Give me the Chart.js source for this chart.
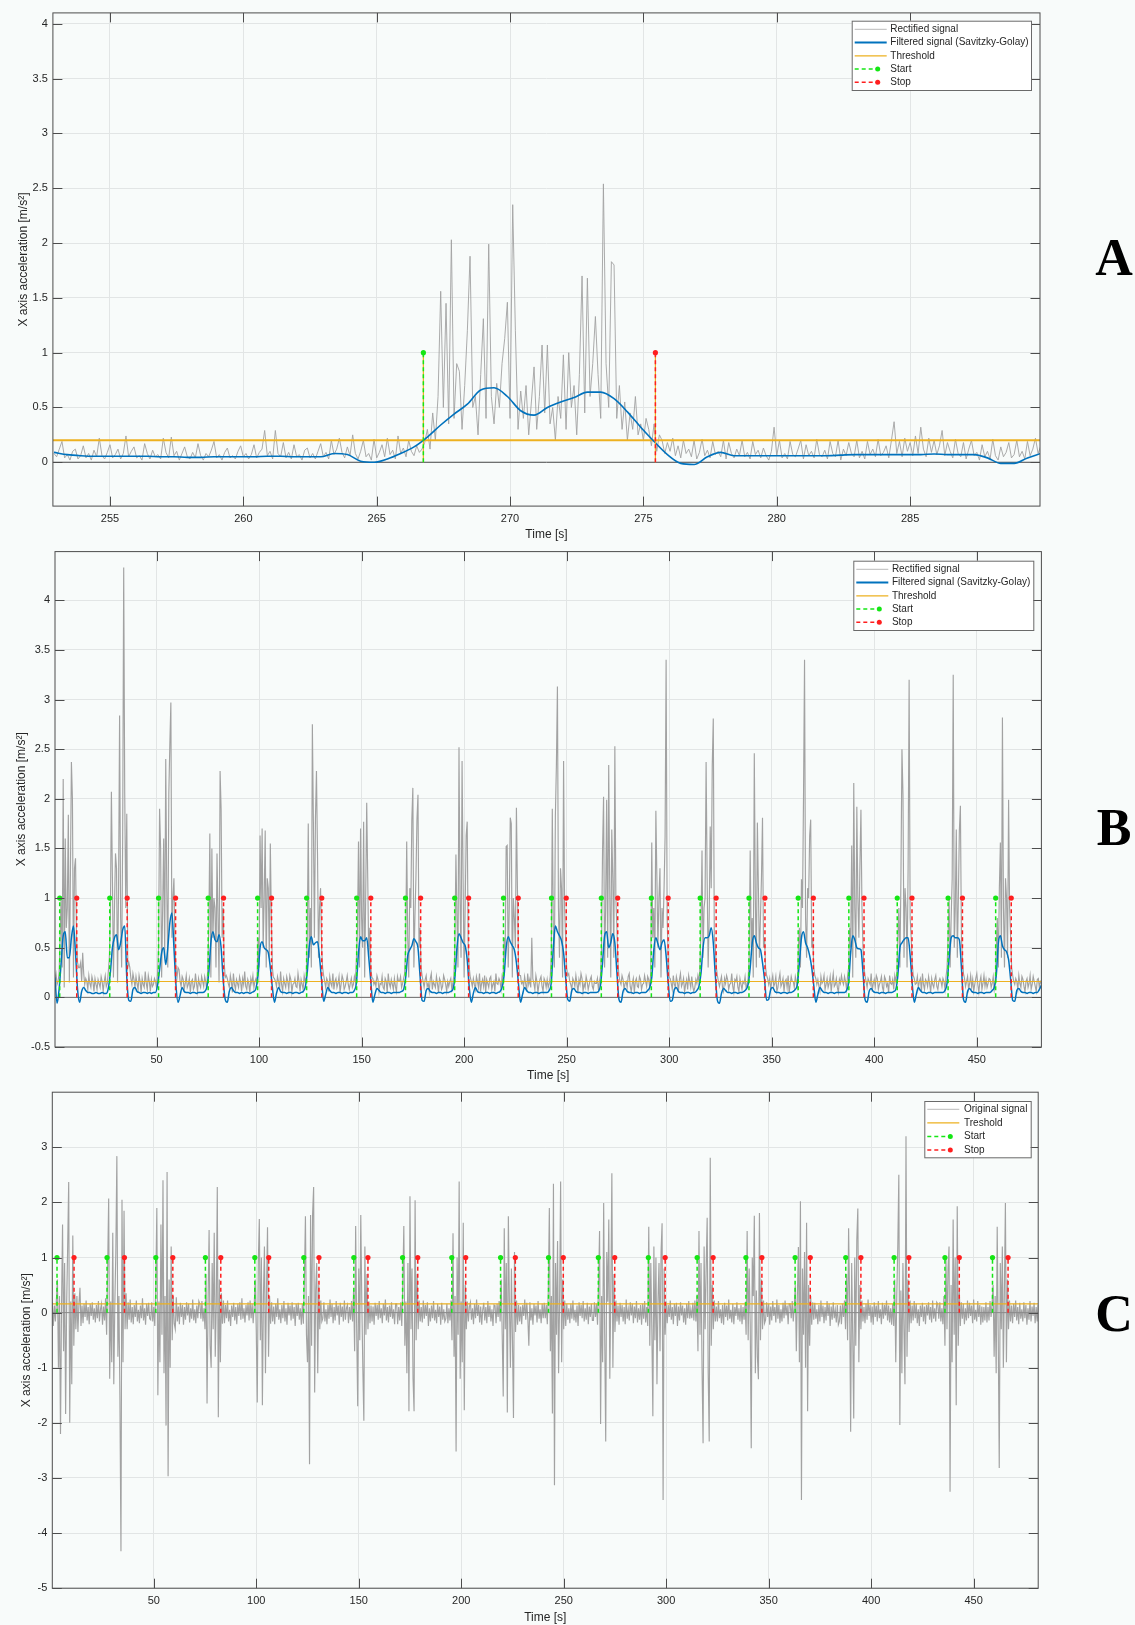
<!DOCTYPE html>
<html>
<head>
<meta charset="utf-8">
<script src="https://cdn.jsdelivr.net/npm/chart.js@4.4.0/dist/chart.umd.min.js"></script>
<style>
  html, body { margin: 0; padding: 0; background: #f8fbfa; }
  body { width: 1135px; height: 1625px; position: relative; overflow: hidden; }
  canvas { position: absolute; left: 0; }
  .tag { position: absolute; width: 60px; text-align: center; line-height: 60px;
         font: bold 52px 'Liberation Serif', 'Times New Roman', serif; color: #000; }
</style>
</head>
<body>
<canvas id="chart-a" width="1135" height="545" style="top:0"></canvas>
<canvas id="chart-b" width="1135" height="545" style="top:540px"></canvas>
<canvas id="chart-c" width="1135" height="545" style="top:1080px"></canvas>
<div class="tag" style="left:1084px;top:228px">A</div>
<div class="tag" style="left:1084px;top:798px">B</div>
<div class="tag" style="left:1084px;top:1284px">C</div>
<script>
'use strict';
// ******* DATA : panel A (zoom on one repetition) ********
const aTicksX = [255, 260, 265, 270, 275, 280, 285];
const aTicksY = [0, 0.5, 1, 1.5, 2, 2.5, 3, 3.5, 4];
const aRectStart = 252.9;
const aRectStep = 0.1;
const aRect = [
  .08,.05,.12,.19,.04,.07,.02,.1,.12,.03,
  .06,.15,.04,.08,.02,.11,.05,.22,.06,.03,
  .09,.16,.04,.07,.12,.03,.08,.24,.05,.1,
  .14,.04,.06,.02,.17,.08,.03,.11,.05,.07,
  .03,.22,.09,.04,.23,.06,.1,.02,.08,.14,
  .05,.03,.09,.04,.17,.06,.02,.08,.05,.11,
  .19,.04,.07,.02,.09,.13,.04,.06,.03,.1,
  .15,.05,.08,.03,.07,.16,.04,.09,.12,.29,
  .06,.1,.03,.29,.08,.05,.18,.04,.09,.03,
  .16,.05,.07,.02,.11,.13,.04,.08,.03,.1,
  .17,.05,.09,.03,.2,.07,.12,.22,.09,.04,
  .14,.06,.25,.08,.03,.1,.2,.05,.08,.02,
  .21,.04,.09,.16,.05,.22,.07,.11,.03,.24,
  .08,.13,.05,.2,.1,.06,.15,.09,.12,.18,
  .3,.12,.45,.2,.6,1.56,.5,1.45,.35,2.03,
  .4,.9,.83,.3,.7,1.2,1.88,.5,.6,.25,
  .8,1.31,.4,1.99,.6,.35,.72,.5,.9,1.13,
  1.46,.4,2.35,1.2,.3,.65,.4,.7,.25,.55,
  .87,.3,.6,1.07,.45,1.07,.35,.5,.2,.6,
  .4,.98,.3,1,.5,.7,.25,.8,1.7,.45,
  1.68,.6,.9,1.33,.8,.4,2.54,.9,.5,1.83,
  1.8,.4,.7,.3,.55,.2,.45,.3,.6,.25,
  .35,.2,.4,.3,.15,.35,.1,.25,.2,.08,
  .18,.1,.22,.06,.15,.04,.2,.08,.12,.05,
  .2,.03,.09,.21,.06,.11,.04,.19,.07,.1,
  .05,.2,.03,.18,.08,.04,.12,.06,.2,.05,
  .09,.03,.19,.07,.11,.04,.13,.06,.02,.1,
  .32,.06,.2,.04,.08,.03,.19,.07,.05,.12,
  .2,.03,.16,.06,.1,.04,.21,.07,.05,.11,
  .03,.19,.08,.05,.2,.02,.12,.06,.18,.08,
  .05,.2,.04,.1,.03,.19,.07,.12,.05,.21,
  .06,.09,.15,.04,.2,.37,.08,.19,.05,.22,
  .1,.18,.06,.24,.08,.32,.12,.05,.22,.09,
  .2,.07,.15,.29,.06,.18,.1,.04,.21,.08,
  .05,.18,.03,.12,.2,.06,.09,.02,.16,.05,
  .1,.03,.21,.06,.02,.14,.05,.09,.18,.04,
  .07,.2,.05,.1,.03,.19,.06,.12,.22,.08,.15
];
const aFiltStart = 252.9;
const aFiltStep = 0.5;
const aFilt = [
  .09,.07,.06,.055,.055,.055,.055,.055,.05,.05,
  .045,.045,.05,.05,.05,.05,.055,.055,.05,.05,
  .05,.08,.07,.01,0,.03,.08,.14,.23,.34,
  .44,.53,.66,.68,.6,.47,.43,.5,.55,.59,
  .64,.64,.58,.46,.32,.19,.07,-.01,-.02,.05,
  .09,.06,.06,.06,.06,.06,.06,.06,.06,.065,
  .07,.07,.07,.07,.07,.07,.075,.07,.07,.07,
  .04,-.01,-.01,.04,.08
];
const aThreshold = 0.2;
const aStart = [266.75];
const aStop = [275.45];

// ******* DATA : panels B and C (whole recording) ********
const bcTicksX = [50, 100, 150, 200, 250, 300, 350, 400, 450];
const bTicksY = [-0.5, 0, 0.5, 1, 1.5, 2, 2.5, 3, 3.5, 4];
const cTicksY = [-5, -4, -3, -2, -1, 0, 1, 2, 3];
// original X acceleration, one value every 0.5 s from 0.5 s (one line = 12 s)
const sigStart = 0.5;
const sigStep = 0.5;
const cSignal = [
  .19,-.24,.13,-.16,.24,.6,-1,.3,-2.2,.1,1.6,-.7,.9,-1.84,.15,1.2,2.37,-2,.2,-1.3,1.4,-.6,.35,-.3,
  .3,-.35,.16,.45,-.24,.13,-.19,.16,-.08,.22,-.14,.1,-.21,.16,-.06,.19,-.13,.08,-.18,.14,-.1,.21,-.16,.06,
  .16,-.22,.11,-.14,.26,-.4,.8,2.07,-1.2,.2,-.9,1.45,-1.3,.15,1.1,2.84,-.8,.3,-1.6,-4.33,2.05,-.9,1.85,-.3,
  .35,-.3,.19,-.13,.24,-.18,.1,-.21,.14,-.08,.22,-.16,.05,-.19,.13,-.1,.26,-.14,.08,-.22,.16,-.06,.18,-.11,
  -.13,.19,-.16,.1,-.24,.5,1.9,-1.5,.2,-.9,1.6,-.4,2.4,-1.1,.3,-2.05,2.55,-2.97,.6,-1,1.2,-.5,.3,-.2,
  -.3,.28,-.16,.11,-.21,.18,-.08,.14,-.22,.1,-.13,.19,-.05,.16,-.18,.08,-.11,.24,-.14,.06,-.19,.13,-.1,.21,
  .16,-.11,.21,-.16,.08,-.3,.7,-1.65,.2,1.5,-.6,-1,.9,-.3,1.45,-.8,.15,2.28,-1.9,.6,-.9,.35,-.2,.22,
  -.19,.14,-.1,.22,-.16,.05,-.24,.13,-.08,.18,-.14,.1,-.21,.16,-.06,.19,-.13,.26,-.11,.08,-.18,.14,-.05,.19,
  -.14,.22,-.1,.16,-.19,.13,.6,-.3,-1.63,.9,1.7,-.5,1,-1.68,.3,1.2,-1.1,.4,1.55,-.8,.3,-.2,.19,-.16,
  .11,-.21,.16,-.08,.26,-.13,.06,-.19,.14,-.1,.21,-.16,.08,-.22,.18,-.05,.13,-.14,.19,-.11,.1,-.24,.16,-.06,
  .18,-.13,.08,-.22,.16,-.2,.6,1.75,-.4,-.9,.3,-2.75,1.77,-.6,1.8,2.28,-1.45,.4,.9,-1.1,.5,-.3,.22,-.16,
  -.1,.19,-.16,.06,-.21,.14,-.11,.24,-.08,.16,-.19,.1,-.14,.21,-.05,.13,-.22,.18,-.08,.11,-.16,.22,-.13,.08,
  .14,-.19,.1,-.13,.21,-.16,.4,-.7,1.57,-.3,-1.7,.8,-.5,1.77,.2,-1,-1.96,1.2,-.4,.7,-.3,.2,-.19,.13,
  -.16,.11,-.22,.18,-.06,.14,-.13,.21,-.1,.08,-.19,.16,-.05,.24,-.14,.1,-.18,.13,-.08,.19,-.11,.06,-.21,.16,
  .16,-.21,.1,-.14,.19,-.24,.5,1.57,-.6,.2,-1.1,.9,-1.79,2.11,-.3,.8,-1.2,-1.79,2.04,-.5,.7,-.3,.22,-.16,
  .1,-.18,.22,-.11,.14,-.06,.19,-.24,.08,-.16,.13,-.1,.21,-.14,.05,-.19,.16,-.08,.11,-.22,.18,-.13,.06,-.16,
  -.11,.16,-.19,.08,-.14,.22,-.5,1.44,-.8,.3,-2.52,1,-.4,2.38,-1.2,.2,-.9,1.63,-1.77,.5,-.3,.2,-.16,.11,
  .19,-.13,.08,-.21,.16,-.1,.24,-.06,.14,-.18,.11,-.22,.05,.18,-.14,.1,-.19,.21,-.08,.13,-.16,.06,-.24,.14,
  .13,-.19,.16,-.08,.21,-.16,.6,-.4,-1.52,1.53,-.3,.9,-1.81,1.75,.2,-1,.8,-.5,-1.91,1.1,-.35,.22,-.22,.14,
  -.16,.11,-.21,.14,-.06,.24,-.13,.18,-.1,-.6,.19,-.14,.08,-.22,.16,-.05,.13,-.18,.21,-.11,.06,-.19,.16,-.1,
  .18,-.1,.14,-.21,.4,1.9,-.7,.3,-1.83,2.34,-3.13,.9,-.4,1.3,-1.1,.2,2.38,-.9,.6,-.3,.22,-.24,.16,-.13,
  .08,-.19,.16,-.11,.22,-.14,.05,-.18,.13,-.24,.19,-.06,.14,-.1,.21,-.16,.08,-.13,.18,-.21,.11,-.08,.16,-.14,
  -.14,.19,-.08,.16,-.22,.5,1.48,-2.02,.3,-.9,1.99,-.4,-2.34,1.1,.2,1.69,-1.2,.4,2.53,-1,.7,-.35,.22,-.16,
  .13,-.22,.18,-.08,.14,-.16,.1,-.21,.24,-.11,.06,-.14,.19,-.05,.16,-.19,.11,-.1,.21,-.18,.08,-.13,.14,-.22,
  .16,-.11,.21,-.18,.1,-.24,1.56,-.6,.9,-.3,-1.88,1.2,-.5,1,-1.3,.2,.9,-.7,1.1,1.62,-3.4,.8,-.4,.2,
  -.19,.14,-.08,.22,-.13,.1,-.21,.16,-.06,.18,-.24,.11,-.14,.19,-.05,.13,-.18,.08,-.22,.16,-.1,.21,-.11,.06,
  -.1,.18,-.14,.22,-.16,.3,-.7,1.48,-.4,.9,-1,-2.37,1.2,-.3,.8,1.72,-1.1,-2.34,2.81,-.6,.5,-.3,.22,-.16,
  .11,-.16,.21,-.1,.06,-.19,.14,-.22,.18,-.08,.13,-.14,.24,-.11,.05,-.18,.16,-.21,.1,-.06,.19,-.13,.08,-.16,
  .14,-.21,.1,-.13,.19,-.4,1.48,-.5,.8,-.2,-2.46,1,.3,1.76,-1.1,.4,-.8,-1.21,1.81,-.5,.6,-.3,.22,-.19,
  -.13,.19,-.08,.16,-.22,.11,-.14,.21,-.06,.1,-.18,.24,-.11,.14,-.19,.06,-.16,.18,-.1,.22,-.05,.13,-.21,.16,
  .16,-.1,.21,-.16,.11,.5,-.7,.3,1.19,-.9,2.02,-3.4,.8,-.4,1.1,-1,1.63,-1.79,.5,-.6,.3,-.22,.19,-.13,
  .18,-.11,.06,-.21,.14,-.16,.22,-.08,.13,-.19,.1,-.14,.21,-.06,.16,-.24,.11,-.13,.19,-.1,.05,-.18,.14,-.22,
  -.16,.13,-.21,.16,-.08,.22,-.3,.7,-.5,1.53,.2,-2.16,.9,-.4,-1.92,1,-.6,1.32,1.89,-.9,.5,-.3,.22,-.16,
  .1,-.19,.16,-.13,.24,-.06,.14,-.18,.11,-.22,.19,-.08,.13,-.16,.21,-.1,.06,-.21,.18,-.11,.14,-.05,.22,-.14,
  .13,-.18,.08,-.22,.16,-.24,.6,-.9,.3,1.2,2.5,-2.04,.4,-1.1,.9,-.3,-1.3,3.2,-.8,.6,-.35,.22,-.19,.13,
  -.14,.21,-.1,.16,-.19,.06,-.24,.13,-.08,.18,-.16,.11,-.21,.14,-.05,.19,-.13,.1,-.18,.22,-.11,.08,-.16,.19,
  .16,-.11,.19,-.16,.08,-.21,.3,-.6,1,-.3,.8,1.2,-3.25,.5,-.9,1.69,-.4,1,-1.68,1.93,-.6,.4,-.24,.19,
  -.11,.16,-.21,.08,-.14,.22,-.1,.18,-.06,.13,-.19,.24,-.13,.05,-.16,.21,-.08,.14,-.22,.11,-.18,.1,-.14,.19,
  -.18,.1,-.14,.21,-.08,.16,.5,-.8,.3,-1.1,1.56,-.4,-2.82,.9,-.3,1.2,-1,.4,1.99,-.9,.6,-.3,.22,-.16,
  .13,-.19,.16,-.08,.22,-.14,.1,-.21,.18,-.11,.06,-.16,.19,-.1,.14,-.22,.08,-.13,.21,-.16,.11,-.06,.18,-.19,
  .1,-.16,.14
];
// Savitzky-Golay filtered rectified signal, one value per second from 0.5 s
const bFiltStart = 0.5;
const bFiltStep = 1;
const bFilt = [
  .2,-.06,.08,.35,.62,.66,.4,.4,.6,.72,.45,.08,
  -.05,.06,.1,.07,.05,.05,.04,.04,.05,.04,.04,.05,
  .04,.04,.09,.25,.5,.6,.63,.48,.55,.68,.72,.2,
  -.03,-.04,.08,.1,.06,.05,.04,.05,.05,.04,.05,.04,
  .05,.05,.12,.28,.45,.5,.33,.5,.75,.85,.5,.12,
  -.05,.02,.1,.06,.05,.05,.04,.05,.05,.04,.05,.05,
  .05,.06,.1,.25,.55,.66,.58,.56,.63,.5,.18,-.02,
  -.05,.06,.1,.07,.05,.05,.04,.05,.04,.05,.05,.04,
  .05,.06,.09,.22,.5,.56,.5,.48,.45,.3,.1,-.05,
  .04,.1,.06,.05,.05,.04,.05,.05,.04,.05,.05,.04,
  .05,.06,.1,.25,.52,.61,.53,.55,.56,.4,.17,-.04,
  .03,.1,.07,.05,.05,.04,.05,.05,.04,.05,.05,.04,
  .05,.05,.07,.15,.45,.61,.57,.57,.6,.4,.16,-.05,
  .03,.09,.07,.05,.05,.04,.05,.05,.04,.05,.05,.05,
  .05,.06,.08,.2,.42,.48,.52,.59,.56,.5,.22,-.03,
  -.04,.07,.09,.06,.05,.05,.04,.05,.05,.04,.05,.05,
  .05,.06,.08,.2,.5,.64,.6,.55,.52,.38,.1,-.05,
  .04,.1,.06,.05,.05,.04,.05,.05,.04,.05,.05,.04,
  .05,.06,.1,.22,.5,.61,.56,.52,.48,.35,.14,-.05,
  .03,.1,.07,.05,.05,.04,.05,.05,.04,.05,.05,.05,
  .05,.07,.15,.5,.72,.66,.62,.57,.45,.2,-.02,-.04,
  .07,.09,.06,.05,.05,.04,.05,.05,.04,.05,.05,.05,
  .05,.06,.12,.35,.62,.66,.5,.55,.64,.55,.25,-.02,
  -.05,.06,.09,.06,.05,.05,.04,.05,.05,.04,.05,.05,
  .05,.07,.1,.2,.48,.6,.54,.48,.55,.58,.42,.15,
  -.04,-.03,.08,.1,.06,.05,.05,.04,.05,.05,.04,.05,
  .05,.07,.11,.24,.5,.6,.6,.62,.7,.55,.22,-.03,
  -.06,.04,.09,.07,.05,.05,.04,.05,.05,.04,.05,.05,
  .06,.08,.13,.3,.55,.62,.55,.5,.48,.35,.18,-.03,
  -.02,.08,.1,.06,.05,.05,.04,.05,.05,.04,.05,.05,
  .06,.08,.13,.35,.6,.66,.55,.5,.42,.3,.12,-.05,
  .03,.1,.07,.05,.05,.04,.05,.05,.04,.05,.05,.05,
  .05,.05,.07,.15,.45,.62,.58,.5,.49,.48,.25,-.02,
  -.05,.06,.09,.06,.05,.05,.04,.05,.05,.04,.05,.05,
  .05,.06,.08,.22,.5,.55,.58,.6,.6,.42,.14,-.05,
  .03,.1,.07,.05,.05,.04,.05,.05,.04,.05,.05,.05,
  .05,.05,.07,.14,.4,.6,.62,.6,.6,.58,.3,-.02,
  -.05,.06,.09,.06,.05,.05,.04,.05,.05,.04,.05,.05,
  .05,.07,.1,.22,.55,.62,.52,.48,.46,.38,.18,-.03,
  -.04,.07,.09,.06,.05,.05,.04,.05,.05,.04,.05,.05,
  .08,.12
];
const bcThreshold = 0.16;
const bcStart = [2.8, 27.2, 51.0, 75.2, 99.3, 123.2, 147.6, 171.4, 195.4, 219.2,
                 242.6, 266.9, 291.3, 315.1, 338.9, 362.9, 387.6, 411.2, 436.0, 459.2];
const bcStop = [11.1, 35.7, 59.3, 82.7, 106.1, 130.6, 154.5, 178.8, 202.2, 226.4,
                249.8, 274.9, 299.5, 322.9, 346.7, 370.3, 395.0, 418.4, 443.0, 466.8];
const stemValue = 1;

const abLegend = ['Rectified signal', 'Filtered signal (Savitzky-Golay)', 'Threshold', 'Start', 'Stop'];
const cLegend = ['Original signal', 'Treshold', 'Start', 'Stop'];

// ******* STYLE ********
const GREY = '#a2a2a2';
const BLUE = '#0072bd';
const ORANGE = '#edb120';
const GREEN = '#14e614';
const RED = '#ff1e1e';
const GRID = '#e2e5e5';
const FRAME = '#4d4d4d';
const FONT = "'Liberation Sans', Arial, Helvetica, sans-serif";

Chart.defaults.font.family = FONT;
Chart.defaults.font.size = 11;
Chart.defaults.color = '#262626';

// ******* HELPERS ********
function series(start, step, values, fn) {
  return values.map((v, i) => ({ x: start + i * step, y: fn ? fn(v) : v }));
}

function stems(times) {
  let d = [];
  times.forEach(t => { d.push({ x: t, y: 0 }, { x: t, y: stemValue }, { x: t, y: null }); });
  return d;
}

function hline(v, min, max) {
  return [{ x: min, y: v }, { x: max, y: v }];
}

function lineDs(data, color, width, order, extra) {
  return Object.assign({
    data: data, borderColor: color, borderWidth: width, pointRadius: 0,
    fill: false, tension: 0, spanGaps: false, order: order
  }, extra || {});
}

function stemDs(times, color, order) {
  return lineDs(stems(times), color, 1.5, order, {
    borderDash: [4, 3],
    pointRadius: c => (c.raw && c.raw.y === stemValue ? 2.6 : 0),
    pointBackgroundColor: color, pointBorderWidth: 0
  });
}

// box + inward tick marks on all four sides (matlab style)
const framePlugin = {
  id: 'frame',
  afterDatasetsDraw(chart) {
    const ctx = chart.ctx;
    const a = chart.chartArea;
    const x = chart.scales.x, y = chart.scales.y;
    const L = 9.5;
    ctx.save();
    ctx.strokeStyle = FRAME;
    ctx.lineWidth = 1;
    ctx.beginPath();
    x.ticks.forEach(t => {
      const px = Math.round(x.getPixelForValue(t.value)) + 0.5;
      ctx.moveTo(px, a.bottom); ctx.lineTo(px, a.bottom - L);
      ctx.moveTo(px, a.top); ctx.lineTo(px, a.top + L);
    });
    y.ticks.forEach(t => {
      const py = Math.round(y.getPixelForValue(t.value)) + 0.5;
      ctx.moveTo(a.left, py); ctx.lineTo(a.left + L, py);
      ctx.moveTo(a.right, py); ctx.lineTo(a.right - L, py);
    });
    ctx.stroke();
    ctx.strokeRect(a.left, a.top, a.right - a.left, a.bottom - a.top);
    ctx.restore();
  }
};

function makeLegend(labels, styles, box) {
  return {
    id: 'boxLegend',
    afterDraw(chart) {
      const ctx = chart.ctx;
      ctx.save();
      ctx.fillStyle = '#ffffff';
      ctx.fillRect(box.x, box.y, box.w, box.h);
      ctx.strokeStyle = '#6a6a6a';
      ctx.lineWidth = 1;
      ctx.strokeRect(box.x + 0.5, box.y + 0.5, box.w, box.h);
      ctx.font = '10px ' + FONT;
      ctx.textBaseline = 'middle';
      labels.forEach((label, i) => {
        const s = styles[i];
        const cy = box.y + box.first + i * box.row;
        ctx.beginPath();
        ctx.strokeStyle = s.color;
        ctx.lineWidth = s.width;
        ctx.setLineDash(s.dot ? [4, 3] : []);
        ctx.moveTo(box.x + 3, cy);
        ctx.lineTo(box.x + (s.dot ? 26 : 35), cy);
        ctx.stroke();
        ctx.setLineDash([]);
        if (s.dot) {
          ctx.beginPath();
          ctx.fillStyle = s.color;
          ctx.arc(box.x + 26, cy, 2.5, 0, Math.PI * 2);
          ctx.fill();
        }
        ctx.fillStyle = '#262626';
        ctx.fillText(label, box.x + box.tx, cy);
      });
      ctx.restore();
    }
  };
}

function makeChart(id, o) {
  return new Chart(document.getElementById(id), {
    type: 'line',
    data: { datasets: o.datasets },
    options: {
      responsive: false,
      animation: false,
      events: [],
      devicePixelRatio: 1,
      layout: { padding: o.pad },
      plugins: { legend: { display: false }, tooltip: { enabled: false } },
      scales: {
        x: {
          type: 'linear', min: o.xMin, max: o.xMax,
          afterBuildTicks: s => { s.ticks = o.xTicks.map(v => ({ value: v })); },
          afterFit: s => { s.height = 36.2; },
          grid: { color: GRID, drawTicks: false },
          border: { display: false },
          ticks: { padding: 6, autoSkip: false, maxRotation: 0, callback: v => String(v) },
          title: { display: true, text: 'Time [s]', font: { size: 12 }, padding: 0 }
        },
        y: {
          type: 'linear', min: o.yMin, max: o.yMax,
          afterBuildTicks: s => { s.ticks = o.yTicks.map(v => ({ value: v })); },
          afterFit: s => { s.width = o.yWidth; },
          grid: { color: GRID, drawTicks: false },
          border: { display: false },
          ticks: { padding: 5, autoSkip: false, callback: v => String(v) },
          title: { display: true, text: 'X axis acceleration [m/s²]', font: { size: 12 },
                   padding: { top: o.yTitle - 7.2, bottom: 0 } }
        }
      }
    },
    plugins: [framePlugin, makeLegend(o.legend, o.legendStyles, o.legendBox)]
  });
}

// ******* EXECUTABLE CODE ********
const abStyles = [
  { color: '#b9b9b9', width: 1 },
  { color: BLUE, width: 2 },
  { color: ORANGE, width: 1.2 },
  { color: GREEN, width: 1.5, dot: true },
  { color: RED, width: 1.5, dot: true }
];
const cStyles = [abStyles[0], abStyles[2], abStyles[3], abStyles[4]];

// A
const aMin = 252.86, aMax = 289.87;
makeChart('chart-a', {
  xMin: aMin, xMax: aMax, yMin: -0.4, yMax: 4.1,
  xTicks: aTicksX, yTicks: aTicksY, yWidth: 52.9, yTitle: 24,
  pad: { left: 0, top: 12.9, right: 95, bottom: 2.7 },
  legend: abLegend, legendStyles: abStyles,
  legendBox: { x: 851.7, y: 20.7, w: 179.3, h: 69.3, first: 8.6, row: 13.25, tx: 38.6 },
  datasets: [
    stemDs(aStart, GREEN, 1),
    stemDs(aStop, RED, 2),
    lineDs(stems(aStart.concat(aStop)), ORANGE, 1.2, 3),
    lineDs(series(aFiltStart, aFiltStep, aFilt), BLUE, 1.6, 4, { cubicInterpolationMode: 'monotone' }),
    lineDs(hline(aThreshold, aMin, aMax), ORANGE, 2, 5),
    lineDs(hline(0, aMin, aMax), '#4a4a4a', 1, 6),
    lineDs(series(aRectStart, aRectStep, aRect), GREY, 0.9, 7)
  ]
});

// B
const bcMin = 0.5, bcMax = 481.5;
makeChart('chart-b', {
  xMin: bcMin, xMax: bcMax, yMin: -0.5, yMax: 4.49,
  xTicks: bcTicksX, yTicks: bTicksY, yWidth: 55, yTitle: 22,
  pad: { left: 0, top: 11.4, right: 93.6, bottom: 1.8 },
  legend: abLegend, legendStyles: abStyles,
  legendBox: { x: 853.3, y: 20.7, w: 180, h: 69.3, first: 8.6, row: 13.25, tx: 38.6 },
  datasets: [
    stemDs(bcStart, GREEN, 1),
    stemDs(bcStop, RED, 2),
    lineDs(series(bFiltStart, bFiltStep, bFilt), BLUE, 1.5, 4, { cubicInterpolationMode: 'monotone' }),
    lineDs(hline(bcThreshold, bcMin, bcMax), ORANGE, 1.2, 5),
    lineDs(hline(0, bcMin, bcMax), '#6a6a6a', 1, 6),
    lineDs(series(sigStart, sigStep, cSignal, Math.abs), GREY, 1.15, 7)
  ]
});

// C
makeChart('chart-c', {
  xMin: bcMin, xMax: bcMax, yMin: -5, yMax: 4,
  xTicks: bcTicksX, yTicks: cTicksY, yWidth: 52.3, yTitle: 27,
  pad: { left: 0, top: 12.2, right: 96.8, bottom: 0.6 },
  legend: cLegend, legendStyles: cStyles,
  legendBox: { x: 924.3, y: 21, w: 106.4, h: 56.3, first: 8.3, row: 13.6, tx: 39.7 },
  datasets: [
    stemDs(bcStart, GREEN, 1),
    stemDs(bcStop, RED, 2),
    lineDs(hline(bcThreshold, bcMin, bcMax), ORANGE, 1.2, 5),
    lineDs(hline(0, bcMin, bcMax), '#8a8a8a', 1, 6),
    lineDs(series(sigStart, sigStep, cSignal), GREY, 1.15, 7)
  ]
});
</script>
</body>
</html>
